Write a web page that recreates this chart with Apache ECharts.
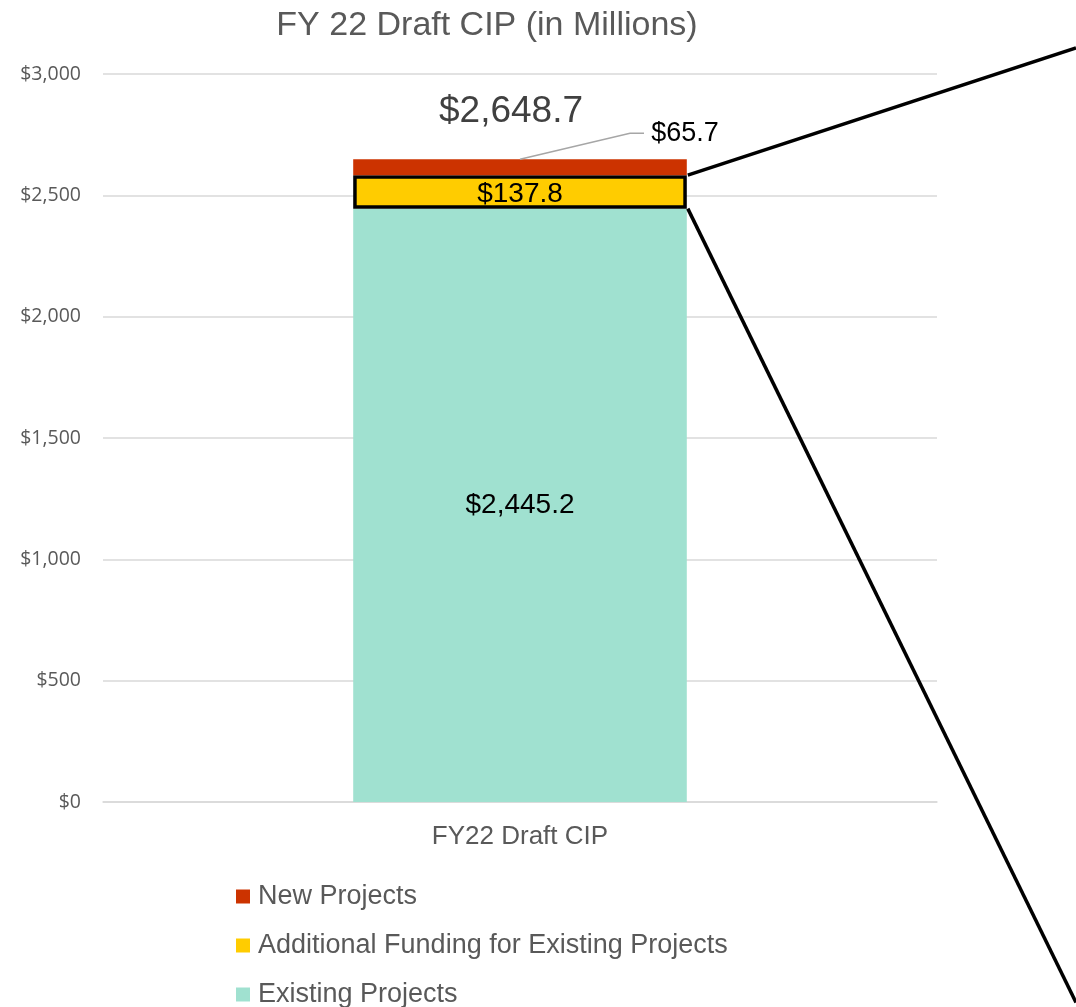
<!DOCTYPE html>
<html>
<head>
<meta charset="utf-8">
<script src="https://cdn.jsdelivr.net/npm/echarts@6/dist/echarts.min.js"></script>
<style>
  html, body { margin: 0; padding: 0; background: #fff; }
  #chart { width: 1076px; height: 1007px; }
</style>
</head>
<body>
<div id="chart"></div>
<script>
// 数据
const categories = ['FY22 Draft CIP']
const existingProjects = [2445.2]
const additionalFunding = [137.8]
const newProjects = [65.7]
const yTicks = [0, 500, 1000, 1500, 2000, 2500, 3000]
const legendNames = ['New Projects', 'Additional Funding for Existing Projects', 'Existing Projects']

const totals = categories.map((c, i) => existingProjects[i] + additionalFunding[i] + newProjects[i])

function money(v) {
  return '$' + v.toLocaleString('en-US', { minimumFractionDigits: 1, maximumFractionDigits: 1 })
}

const font = 'Liberation Sans'
const gray = '#595959'

// 图例：每项单独一行，避免自动换列
const legends = legendNames.map((name, i) => ({
  data: [name],
  left: 236,
  top: 883 + i * 49,
  padding: 0,
  itemWidth: 14,
  itemHeight: 14,
  icon: 'rect',
  itemStyle: { borderWidth: 0 },
  textStyle: { fontFamily: font, fontSize: 27, color: gray, padding: [0, 0, 0, 3] }
}))

const chart = echarts.init(document.getElementById('chart'))

chart.setOption({
  animation: false,
  title: {
    text: 'FY 22 Draft CIP (in Millions)',
    left: 482,
    textAlign: 'center',
    top: 4,
    textStyle: { fontFamily: font, fontWeight: 'normal', fontSize: 34, color: gray }
  },
  grid: { left: 103, right: 139, top: 74, bottom: 205 },
  legend: legends,
  xAxis: {
    type: 'category',
    data: categories,
    axisLine: { lineStyle: { color: '#d9d9d9', width: 1.5 } },
    axisTick: { show: false },
    axisLabel: { fontFamily: font, fontSize: 26, color: gray, margin: 22 }
  },
  yAxis: {
    type: 'value',
    min: yTicks[0],
    max: yTicks[yTicks.length - 1],
    interval: 500,
    axisLine: { show: false },
    axisTick: { show: false },
    splitLine: { lineStyle: { color: '#d9d9d9', width: 1.5 } },
    axisLabel: {
      fontFamily: 'Open Sans', fontSize: 19.5, color: gray, margin: 22,
      formatter: v => '$' + v.toLocaleString('en-US')
    }
  },
  series: [
    {
      name: 'Existing Projects',
      type: 'bar',
      stack: 'cip',
      barWidth: '40%',
      data: existingProjects,
      itemStyle: { color: '#a0e1d0' },
      label: {
        show: true, position: 'inside', formatter: p => money(p.value),
        fontFamily: font, fontSize: 28, color: '#000'
      }
    },
    {
      name: 'Additional Funding for Existing Projects',
      type: 'bar',
      stack: 'cip',
      data: additionalFunding,
      itemStyle: { color: '#ffcc00', borderColor: '#000', borderWidth: 3.5 },
      label: {
        show: true, position: 'inside', formatter: p => money(p.value),
        fontFamily: font, fontSize: 28, color: '#000'
      },
      labelLayout: { dy: 2 }
    },
    {
      name: 'New Projects',
      type: 'bar',
      stack: 'cip',
      data: newProjects,
      itemStyle: { color: '#cc3300' },
      label: {
        show: true, position: 'top', formatter: p => money(p.value),
        fontFamily: font, fontSize: 27, color: '#000', distance: 12
      },
      labelLayout: { dx: 165 }
    },
    {
      name: 'Total',
      type: 'bar',
      stack: 'cip',
      data: totals.map(() => 0),
      itemStyle: { color: 'transparent' },
      label: {
        show: true, position: 'top', distance: 29,
        formatter: p => money(totals[p.dataIndex]),
        fontFamily: font, fontSize: 37, color: '#404040'
      },
      labelLayout: { dx: -9 }
    }
  ]
})

// 引线与放大框线，位置由坐标轴换算
function drawDecorations() {
  const cx = chart.convertToPixel({ xAxisIndex: 0 }, categories[0])
  const halfBar = chart.getModel().getSeriesByIndex(1).getData().getItemLayout(0).width / 2
  const x0 = cx + halfBar
  const yTop = chart.convertToPixel({ yAxisIndex: 0 }, existingProjects[0] + additionalFunding[0])
  const yBot = chart.convertToPixel({ yAxisIndex: 0 }, existingProjects[0])
  const yRed = chart.convertToPixel({ yAxisIndex: 0 }, totals[0])
  const w = chart.getWidth()
  chart.setOption({
    graphic: [
      { type: 'polyline', shape: { points: [[cx, yRed], [cx + 110, yRed - 26], [cx + 124, yRed - 26]] }, style: { stroke: '#a6a6a6', lineWidth: 1.5, fill: null }, z: 10 },
      { type: 'line', shape: { x1: x0 + 1, y1: yTop, x2: w, y2: yTop - (w - x0) * 0.327 }, style: { stroke: '#000', lineWidth: 3.5 }, z: 10 },
      { type: 'line', shape: { x1: x0 + 1, y1: yBot, x2: w, y2: yBot + (w - x0) * 2.04 }, style: { stroke: '#000', lineWidth: 3.5 }, z: 10 }
    ]
  })
}
drawDecorations()
</script>
</body>
</html>
